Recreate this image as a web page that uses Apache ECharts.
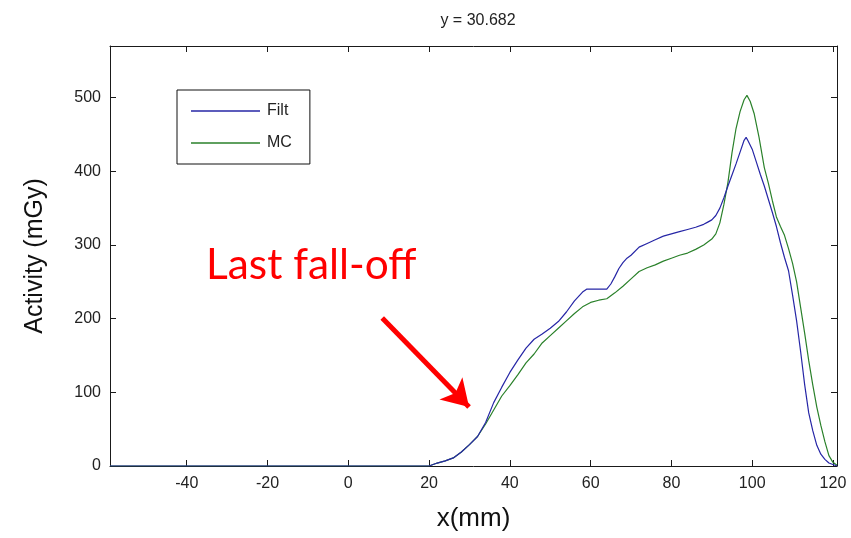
<!DOCTYPE html>
<html>
<head>
<meta charset="utf-8">
<script src="https://cdn.jsdelivr.net/npm/echarts@6/dist/echarts.min.js"></script>
<style>
  html, body { margin: 0; padding: 0; background: #fff; }
  #chart { width: 851px; height: 538px; }
</style>
</head>
<body>
<div id="chart"></div>
<script>
// Depth profile along x at y = 30.682 : filtered reconstruction vs Monte Carlo
const filtX = [-59, 20, 22, 24, 26, 28, 30, 32, 34, 36, 38, 40, 42, 44, 46, 48, 50, 52, 54, 56, 58, 59, 62, 64, 65, 66, 67, 68, 69, 70, 72, 74, 76, 78, 80, 82, 84, 86, 88, 89, 90, 91, 92, 93, 94, 95, 96, 97, 98, 98.5, 99, 100, 101, 102, 103, 104, 105, 106, 107, 108, 109, 110, 111, 112, 113, 114, 115, 116, 117, 118, 119, 120, 121];
const filtY = [0, 0, 4, 7, 11, 19, 29, 40, 59, 86, 107, 127, 144, 160, 172, 179, 187, 196, 209, 224, 236, 240, 240, 240, 247, 257, 268, 276, 282, 286, 297, 302, 307, 312, 315, 318, 321, 324, 328, 331, 334, 340, 350, 364, 380, 395, 410, 426, 442, 446, 441, 430, 413, 396, 380, 362, 344, 325, 303, 283, 265, 232, 197, 155, 110, 72, 48, 28, 16, 9, 4, 2, 0];

const mcX = [-59, 20, 22, 24, 26, 28, 30, 32, 34, 36, 38, 40, 42, 44, 46, 48, 50, 52, 54, 56, 58, 60, 62, 64, 66, 68, 70, 72, 74, 76, 78, 80, 82, 84, 86, 88, 90, 91, 92, 93, 94, 95, 96, 97, 98, 98.7, 99.5, 100.5, 101.7, 103, 104, 105, 106, 107, 108, 109, 110, 111, 112, 113, 114, 115, 116, 117, 118, 119, 120, 121];
const mcY = [0, 0, 4, 7, 11, 19, 29, 40, 57, 76, 95, 109, 124, 140, 152, 167, 177, 187, 197, 207, 216, 222, 225, 227, 235, 244, 254, 264, 269, 273, 278, 282, 286, 289, 294, 300, 308, 315, 330, 355, 385, 425, 458, 481, 497, 503, 495, 478, 446, 405, 384, 360, 338, 325, 313, 295, 275, 250, 215, 180, 143, 110, 80, 55, 33, 14, 5, 1];

const xTicks = [-40, -20, 0, 20, 40, 60, 80, 100, 120];
const yTicks = [0, 100, 200, 300, 400, 500];
const xRange = [-59, 121];
const yRange = [0, 570];

// arrow pointing at the last fall-off (tail, head) in data units
const arrowFrom = [8.4, 201];
const arrowTo = [29.9, 80];

const pairs = (xs, ys) => xs.map((x, i) => [x, ys[i]]);

const tickFont = '"Liberation Sans Narrow", "Liberation Sans", Arial, sans-serif';
const axisColor = '#1a1a1a';

function makeX(pos, showLabels) {
  return {
    type: 'value', position: pos, min: xRange[0], max: xRange[1],
    axisLine: { show: true, onZero: false, lineStyle: { color: axisColor, width: 1 } },
    axisTick: { show: true, inside: true, length: 6, customValues: xTicks, lineStyle: { color: axisColor } },
    axisLabel: { show: showLabels, customValues: xTicks, margin: 10, color: '#222', fontSize: 16, fontFamily: tickFont },
    splitLine: { show: false },
    name: showLabels ? 'x(mm)' : '', nameLocation: 'middle', nameGap: 40,
    nameTextStyle: { fontSize: 26, color: '#111', fontFamily: '"Liberation Sans", Arial, sans-serif' }
  };
}
function makeY(pos, showLabels) {
  return {
    type: 'value', position: pos, min: yRange[0], max: yRange[1],
    axisLine: { show: true, onZero: false, lineStyle: { color: axisColor, width: 1 } },
    axisTick: { show: true, inside: true, length: 6, customValues: yTicks, lineStyle: { color: axisColor } },
    axisLabel: { show: showLabels, customValues: yTicks, margin: 9, color: '#222', fontSize: 16, fontFamily: tickFont },
    splitLine: { show: false },
    name: showLabels ? 'Activity (mGy)' : '', nameLocation: 'middle', nameGap: 62, nameRotate: 90,
    nameTextStyle: { fontSize: 25, color: '#111', fontFamily: '"Liberation Sans", Arial, sans-serif' }
  };
}

const chart = echarts.init(document.getElementById('chart'), null, { renderer: 'canvas' });
chart.setOption({
  animation: false,
  backgroundColor: '#ffffff',
  title: {
    text: 'y = 30.682', left: 473, top: 8, textAlign: 'center',
    textStyle: { fontSize: 16, fontWeight: 'normal', color: '#222', fontFamily: tickFont }
  },
  grid: { left: 110, right: 14, top: 46, bottom: 72 },
  xAxis: [makeX('bottom', true), makeX('top', false)],
  yAxis: [makeY('left', true), makeY('right', false)],
  legend: {
    left: 177, top: 90, orient: 'vertical',
    padding: [12, 18, 12, 14],
    icon: 'rect', itemWidth: 69, itemHeight: 1.5, itemGap: 14,
    borderColor: '#111', borderWidth: 1, backgroundColor: '#fff',
    textStyle: { fontSize: 16, color: '#222', fontFamily: tickFont, padding: [0, 0, 0, 2], lineHeight: 18 },
    data: ['Filt', 'MC']
  },
  series: [
    {
      name: 'Filt', type: 'line', data: pairs(filtX, filtY), symbol: 'none', z: 3,
      lineStyle: { color: '#2626a6', width: 1.2 }, itemStyle: { color: '#2626a6' }
    },
    {
      name: 'MC', type: 'line', data: pairs(mcX, mcY), symbol: 'none', z: 2,
      lineStyle: { color: '#2a812a', width: 1.2 }, itemStyle: { color: '#2a812a' },
      markLine: {
        silent: true, symbol: ['none', 'arrow'], symbolSize: [24, 26],
        label: { show: false },
        lineStyle: { color: '#ff0000', width: 5, type: 'solid' },
        data: [[{ coord: arrowFrom }, { coord: arrowTo }]]
      }
    }
  ],
  graphic: [
    {
      type: 'text', left: 206, top: 244, scaleX: 0.985,
      style: { text: 'Last fall-off', fill: '#ff0000', fontSize: 43, fontFamily: 'Lato, "Open Sans", sans-serif' }
    }
  ]
});
</script>
</body>
</html>
